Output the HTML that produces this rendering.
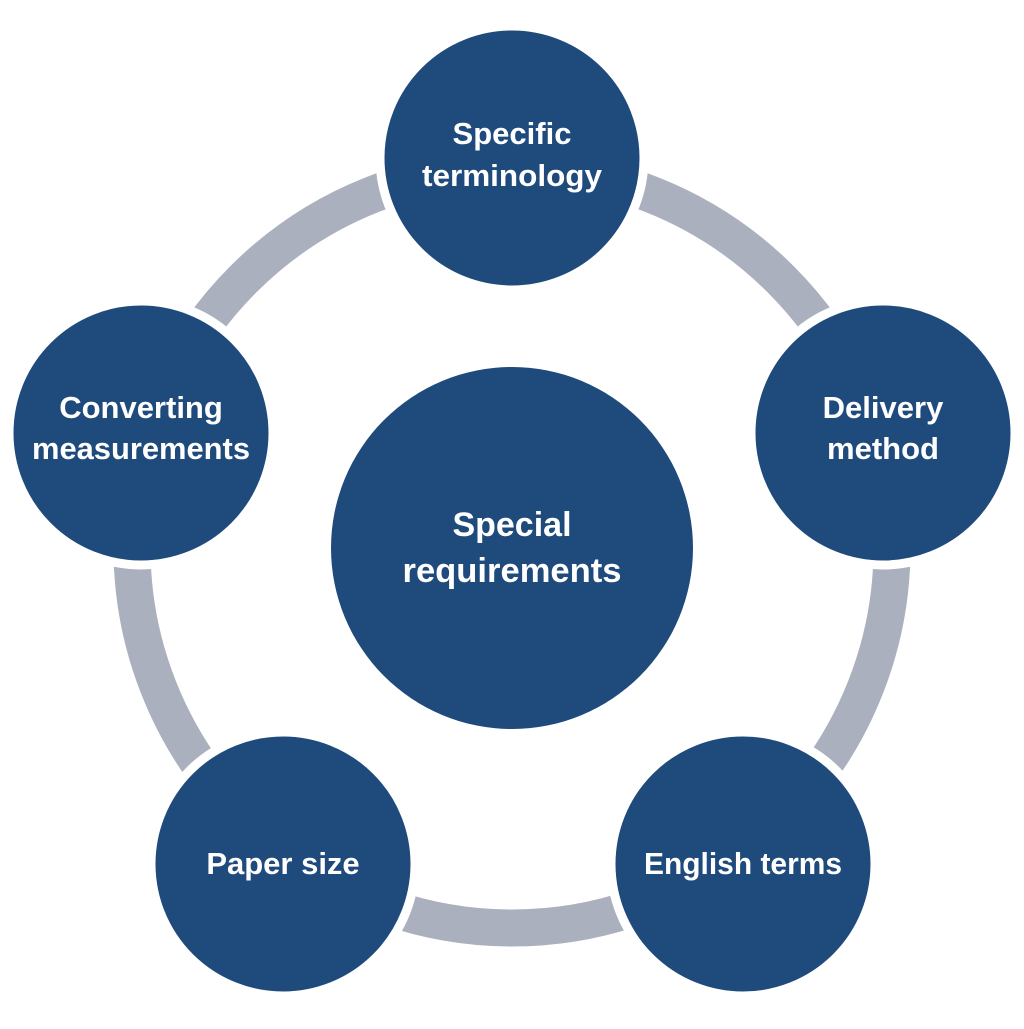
<!DOCTYPE html>
<html><head><style>
html,body{margin:0;padding:0;background:#fff;}
svg text{font-family:"Liberation Sans",sans-serif;font-weight:bold;fill:#fff;font-size:31px;text-anchor:middle;}
</style></head><body>
<svg width="1024" height="1024" viewBox="0 0 1024 1024" xmlns="http://www.w3.org/2000/svg">
<circle cx="512" cy="548" r="380" fill="none" stroke="#aab0be" stroke-width="37"/>
<g fill="#1f4a7c" stroke="#fff" stroke-width="9">
<circle cx="512" cy="158" r="132"/>
<circle cx="883" cy="433" r="132"/>
<circle cx="141" cy="433" r="132"/>
<circle cx="743" cy="864" r="132"/>
<circle cx="283" cy="864" r="132"/>
</g>
<circle cx="512" cy="548" r="181" fill="#1f4a7c"/>
<text x="512" y="144">Specific</text>
<text x="512" y="186" textLength="180" lengthAdjust="spacingAndGlyphs">terminology</text>
<text x="883" y="418">Delivery</text>
<text x="883" y="459">method</text>
<text x="141" y="418">Converting</text>
<text x="141" y="459" textLength="218" lengthAdjust="spacingAndGlyphs">measurements</text>
<text x="743" y="874" textLength="198" lengthAdjust="spacingAndGlyphs">English terms</text>
<text x="283" y="874">Paper size</text>
<text x="512" y="536" style="font-size:34px">Special</text>
<text x="512" y="582" style="font-size:34px" textLength="219" lengthAdjust="spacingAndGlyphs">requirements</text>
</svg>
</body></html>
